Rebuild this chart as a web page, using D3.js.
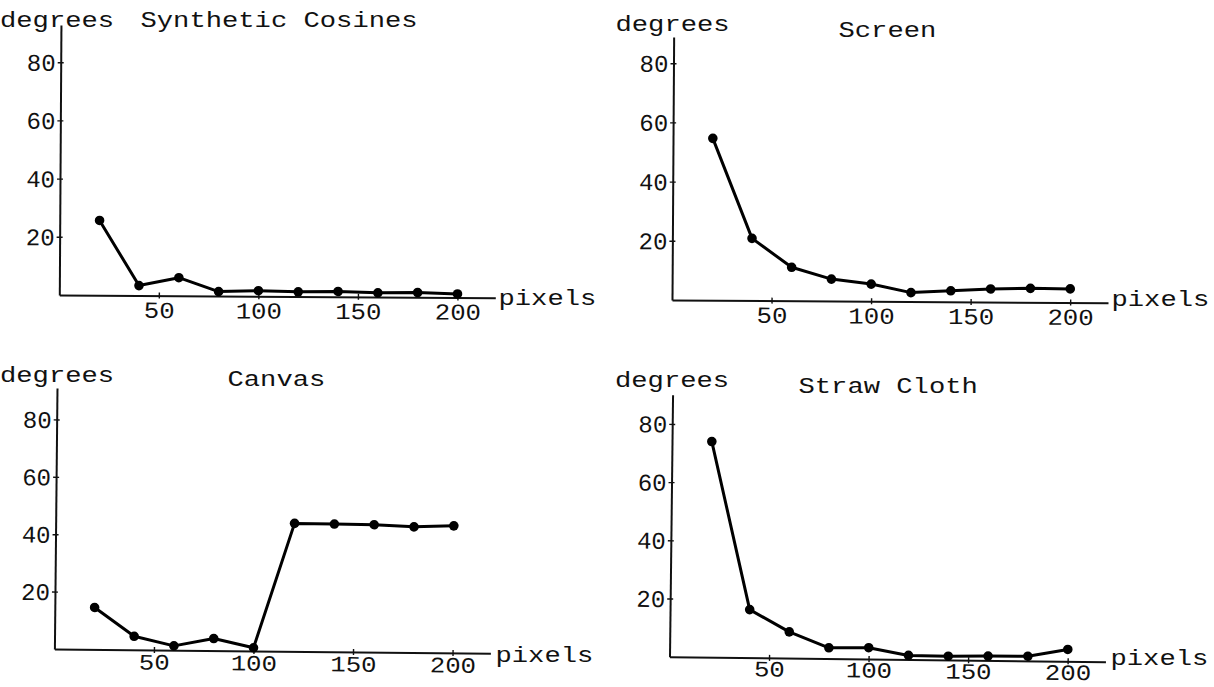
<!DOCTYPE html>
<html>
<head>
<meta charset="utf-8">
<script src="https://cdn.jsdelivr.net/npm/d3@7"></script>
<style>
  html, body { margin: 0; padding: 0; background: #fff; }
  svg { display: block; }
  text { font-family: "Liberation Mono", "DejaVu Sans Mono", monospace; fill: #111; }
</style>
</head>
<body>
<div id="chart"></div>
<script>
/* global d3 */

// window sizes (pixels) shared by every panel
var pixelSizes = [ 20, 40, 60, 80, 100, 120, 140, 160, 180, 200 ];

// error in degrees
var syntheticCosines = [ 25.7, 3.4, 6.2, 1.5, 1.9, 1.6, 1.8, 1.4, 1.6, 1.2 ];
var screen = [ 54.7, 21.0, 11.3, 7.4, 5.8, 3.0, 3.7, 4.4, 4.7, 4.6 ];
var canvas = [ 14.6, 4.7, 1.5, 4.2, 1.1, 44.6, 44.5, 44.4, 43.8, 44.3 ];
var strawCloth = [ 74.1, 16.5, 9.0, 3.7, 3.9, 1.4, 1.3, 1.5, 1.6, 4.1 ];

var titles = [ "Synthetic Cosines", "Screen", "Canvas", "Straw Cloth" ];
var xTicks = [ 50, 100, 150, 200 ];
var yTicks = [ 20, 40, 60, 80 ];
var yLabel = "degrees";
var xLabel = "pixels";

var width = 1214,
  height = 687,
  charW = 16.3;

// where each scanned panel sits on the page
var panels = [
  { values: syntheticCosines, ox: 59.3, oy: 295, ky: 2.91, top: 270, tilt: 0.35, pad: 3, fs: 23,
    deg: [ 0, 27 ], ttl: [ 140.5, 27 ], pix: [ 498.5, 305 ] },
  { values: screen, ox: 672, oy: 300, ky: 2.96, top: 263, tilt: 0.36, pad: 3, fs: 23,
    deg: [ 615.5, 30.5 ], ttl: [ 838.5, 36.5 ], pix: [ 1111.5, 306 ] },
  { values: canvas, ox: 54.4, oy: 649, ky: 2.87, top: 261, tilt: 0.57, pad: 1, fs: 22,
    deg: [ 0, 381.5 ], ttl: [ 227.5, 386 ], pix: [ 495.5, 661.5 ] },
  { values: strawCloth, ox: 669.5, oy: 656.7, ky: 2.91, top: 262, tilt: 0.67, pad: 0, fs: 22,
    deg: [ 615, 386.7 ], ttl: [ 798.5, 393 ], pix: [ 1110.5, 665 ] }
];

var svg = d3.select( "#chart" ).append( "svg" )
  .attr( "width", width )
  .attr( "height", height );

svg.append( "rect" )
  .attr( "width", width )
  .attr( "height", height )
  .attr( "fill", "#fff" );

function label( x, y, str, size ) {
  return svg.append( "text" )
    .attr( "x", x )
    .attr( "y", y )
    .attr( "font-size", size || 22 )
    .attr( "textLength", str.length * charW )
    .attr( "lengthAdjust", "spacingAndGlyphs" )
    .text( str );
}

panels.forEach( function( p, i ) {

  var xScale = d3.scaleLinear().domain( [ 0, 219 ] ).range( [ 0, 436 ] );
  var yScale = d3.scaleLinear().domain( [ 0, p.top / p.ky ] ).range( [ 0, -p.top ] );

  // the scan is slightly rotated, so the plot area is too
  var g = svg.append( "g" )
    .attr( "transform", "translate(" + p.ox + "," + p.oy + ") rotate(" + p.tilt + ")" );

  var xAxis = g.append( "g" )
    .call( d3.axisBottom( xScale ).tickValues( xTicks ).tickSize( 3 ).tickPadding( p.pad ).tickSizeOuter( 0 ) );

  xAxis.select( ".domain" ).attr( "stroke", "#111" ).attr( "stroke-width", 2 );
  xAxis.selectAll( ".tick line" ).attr( "y1", -3 ).attr( "stroke", "#111" ).attr( "stroke-width", 1.4 );
  xAxis.selectAll( ".tick text" )
    .attr( "font-family", null )
    .attr( "font-size", p.fs )
    .attr( "textLength", function( d ) { return String( d ).length * 15.4; } )
    .attr( "lengthAdjust", "spacingAndGlyphs" );

  var yAxis = g.append( "g" )
    .call( d3.axisLeft( yScale ).tickValues( yTicks ).tickSize( 3 ).tickPadding( 2 ).tickSizeOuter( 0 ) );

  yAxis.select( ".domain" ).attr( "stroke", "#111" ).attr( "stroke-width", 2 );
  yAxis.selectAll( ".tick line" ).attr( "x1", 3 ).attr( "stroke", "#111" ).attr( "stroke-width", 1.4 );
  yAxis.selectAll( ".tick text" )
    .attr( "font-family", null )
    .attr( "font-size", 24 )
    .attr( "dy", "0.34em" );

  var pts = pixelSizes.map( function( x, j ) { return [ x, p.values[ j ] ]; } );

  var line = d3.line()
    .x( function( d ) { return xScale( d[ 0 ] ); } )
    .y( function( d ) { return yScale( d[ 1 ] ); } );

  g.append( "path" )
    .datum( pts )
    .attr( "d", line )
    .attr( "fill", "none" )
    .attr( "stroke", "#000" )
    .attr( "stroke-width", 3 )
    .attr( "stroke-linejoin", "round" );

  g.selectAll( ".dot" )
    .data( pts )
    .enter()
    .append( "circle" )
      .attr( "class", "dot" )
      .attr( "cx", function( d ) { return xScale( d[ 0 ] ); } )
      .attr( "cy", function( d ) { return yScale( d[ 1 ] ); } )
      .attr( "r", 4.8 )
      .attr( "fill", "#000" );

  label( p.deg[ 0 ], p.deg[ 1 ], yLabel );
  label( p.ttl[ 0 ], p.ttl[ 1 ], titles[ i ] );
  label( p.pix[ 0 ], p.pix[ 1 ], xLabel );

} );
</script>
</body>
</html>
